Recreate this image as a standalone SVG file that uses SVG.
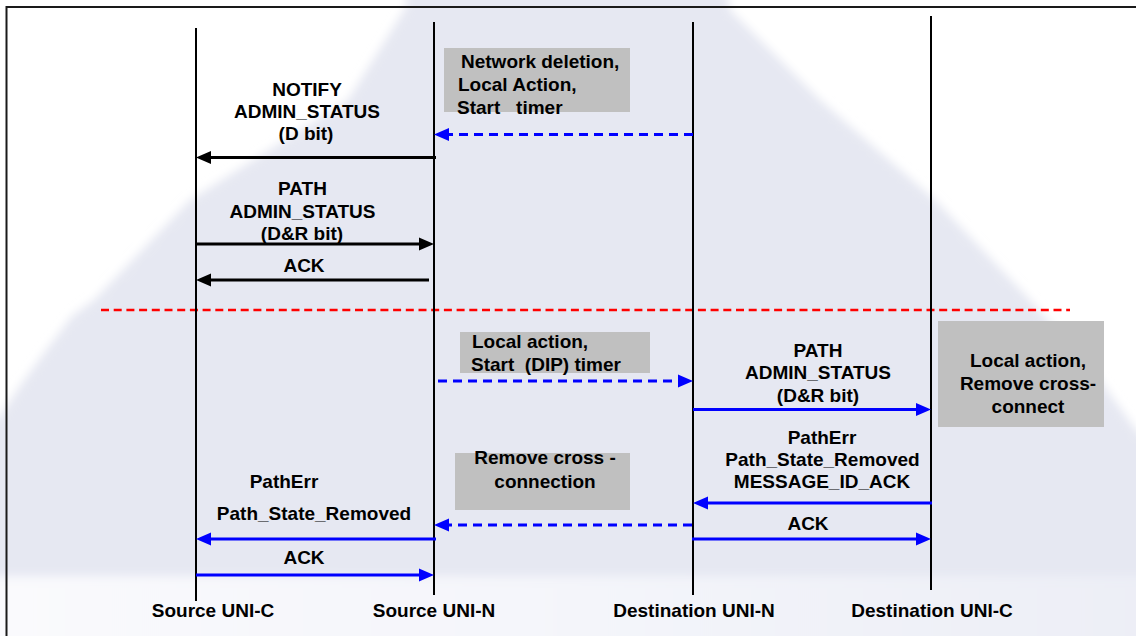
<svg xmlns="http://www.w3.org/2000/svg" width="1136" height="636" viewBox="0 0 1136 636">
<defs>
<style>
text{font-family:"Liberation Sans",Arial,sans-serif;font-weight:bold;font-size:19px;fill:#000}
.c{text-anchor:middle}
.life{stroke:#000;stroke-width:2;fill:none}
.blk{stroke:#000;stroke-width:3;fill:none}
.blu{stroke:#0000ff;stroke-width:3;fill:none}
.dsh{stroke-dasharray:9,6}
.box{fill:#c0c0c0}
</style>
<filter id="soft" filterUnits="userSpaceOnUse" x="-60" y="-60" width="1260" height="760"><feGaussianBlur stdDeviation="5"/></filter>
<linearGradient id="bot" x1="0" y1="0" x2="1" y2="0">
<stop offset="0" stop-color="#fafafd"/>
<stop offset="0.5" stop-color="#f4f5fa"/>
<stop offset="1" stop-color="#eceef6"/>
</linearGradient>
<marker id="ak" markerUnits="userSpaceOnUse" markerWidth="16" markerHeight="14" refX="5" refY="6.5" orient="auto" overflow="visible">
<path d="M0,0 L15,6.5 L0,13 Z" fill="#000"/>
</marker>
<marker id="ab" markerUnits="userSpaceOnUse" markerWidth="16" markerHeight="14" refX="5" refY="6.5" orient="auto" overflow="visible">
<path d="M0,0 L15,6.5 L0,13 Z" fill="#0000ff"/>
</marker>
</defs>

<g id="background">
<rect x="0" y="0" width="1136" height="636" fill="#ffffff"/>
<path d="M406,-40 L720,-40 L730,10 L820,100 L935,200 L1030,300 L1100,380 L1136,430 L1190,480 L1190,700 L-50,700 L-50,450 L0,416 L22,383 L47,349 L72,316 L94,300 L190,200 L348,100 L406,7 Z" fill="#e6e8f2" filter="url(#soft)"/>
<rect x="-40" y="576" width="1220" height="120" fill="url(#bot)" filter="url(#soft)"/>
</g>

<g id="frame">
<path d="M6.5,636 L6.5,7 L1136,7" fill="none" stroke="#1a1a1a" stroke-width="2"/>
</g>

<g id="separator">
<line x1="101" y1="310" x2="1070" y2="310" stroke="#ff0000" stroke-width="2.5" stroke-dasharray="8,4.7"/>
</g>

<g id="lifelines">
<line class="life" x1="196" y1="28" x2="196" y2="601"/>
<line class="life" x1="434" y1="22" x2="434" y2="595"/>
<line class="life" x1="693" y1="22" x2="693" y2="595"/>
<line class="life" x1="931" y1="16" x2="931" y2="590"/>
</g>

<g id="node-source-uni-c"><text class="c" x="213" y="617">Source UNI-C</text></g>
<g id="node-source-uni-n"><text class="c" x="434" y="617">Source UNI-N</text></g>
<g id="node-dest-uni-n"><text class="c" x="694" y="617">Destination UNI-N</text></g>
<g id="node-dest-uni-c"><text class="c" x="932" y="617">Destination UNI-C</text></g>

<g id="note-network-deletion">
<rect class="box" x="444" y="48" width="186" height="64"/>
<text x="461" y="68" xml:space="preserve">Network deletion,</text>
<text x="458" y="91" xml:space="preserve">Local Action,</text>
<text x="457" y="114" xml:space="preserve">Start   timer</text>
</g>

<g id="note-dip-timer">
<rect class="box" x="460" y="332" width="190" height="41"/>
<text x="472" y="348" xml:space="preserve">Local action,</text>
<text x="471" y="371" xml:space="preserve">Start  (DIP) timer</text>
</g>

<g id="note-remove-cross-connection">
<rect class="box" x="455" y="453" width="175" height="57"/>
<text class="c" x="545" y="464" xml:space="preserve">Remove cross -</text>
<text class="c" x="545" y="488">connection</text>
</g>

<g id="note-remove-cross-connect">
<rect class="box" x="938" y="321" width="166" height="106"/>
<text class="c" x="1028" y="367">Local action,</text>
<text class="c" x="1028" y="390">Remove cross-</text>
<text class="c" x="1028" y="413">connect</text>
</g>

<g id="connectors">
<line class="blu dsh" x1="693" y1="134.5" x2="444" y2="134.5" marker-end="url(#ab)"/>
<line class="blk" x1="436" y1="157.5" x2="206" y2="157.5" marker-end="url(#ak)"/>
<line class="blk" x1="196" y1="244" x2="424" y2="244" marker-end="url(#ak)"/>
<line class="blk" x1="429" y1="280" x2="206" y2="280" marker-end="url(#ak)"/>
<line class="blu dsh" x1="438" y1="381" x2="683" y2="381" marker-end="url(#ab)"/>
<line class="blu" x1="693" y1="409.5" x2="921" y2="409.5" marker-end="url(#ab)"/>
<line class="blu" x1="932" y1="503" x2="703" y2="503" marker-end="url(#ab)"/>
<line class="blu dsh" x1="692" y1="525" x2="444" y2="525" marker-end="url(#ab)"/>
<line class="blu" x1="436" y1="539" x2="206" y2="539" marker-end="url(#ab)"/>
<line class="blu" x1="692" y1="539" x2="921" y2="539" marker-end="url(#ab)"/>
<line class="blu" x1="196" y1="575" x2="424" y2="575" marker-end="url(#ab)"/>
</g>

<g id="connector-labels">
<text class="c" x="307" y="96">NOTIFY</text>
<text class="c" x="307" y="118">ADMIN_STATUS</text>
<text class="c" x="306" y="140">(D bit)</text>
<text class="c" x="302.5" y="195">PATH</text>
<text class="c" x="302.5" y="218">ADMIN_STATUS</text>
<text class="c" x="302" y="240">(D&amp;R bit)</text>
<text class="c" x="304" y="272">ACK</text>
<text class="c" x="818" y="357">PATH</text>
<text class="c" x="818" y="379">ADMIN_STATUS</text>
<text class="c" x="818" y="402">(D&amp;R bit)</text>
<text class="c" x="822" y="444">PathErr</text>
<text class="c" x="822.5" y="466">Path_State_Removed</text>
<text class="c" x="822" y="488">MESSAGE_ID_ACK</text>
<text class="c" x="808" y="530">ACK</text>
<text class="c" x="284" y="488">PathErr</text>
<text class="c" x="314" y="520">Path_State_Removed</text>
<text class="c" x="304" y="564">ACK</text>
</g>
</svg>
